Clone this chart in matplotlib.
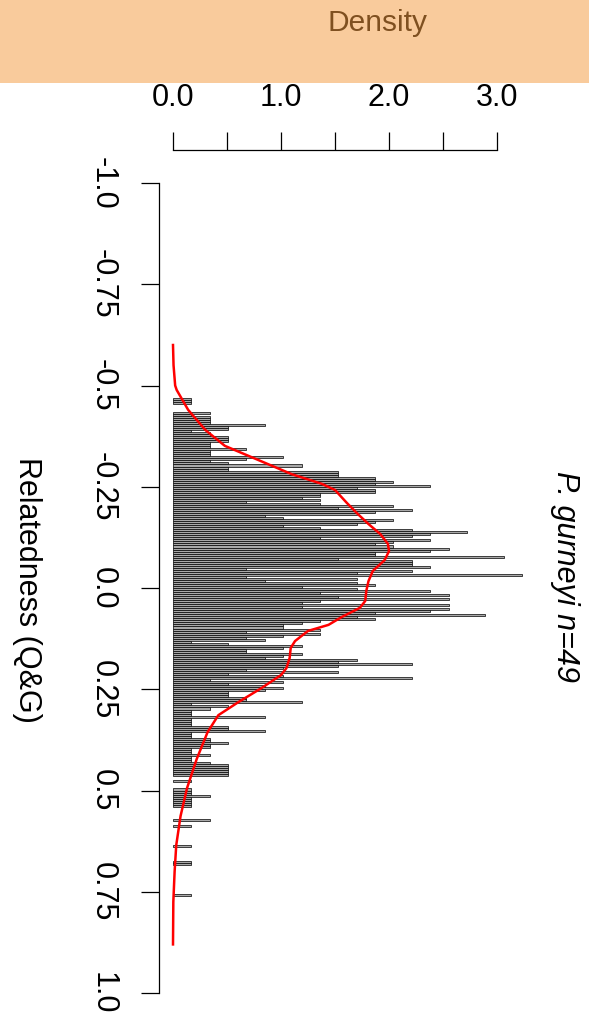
import matplotlib
matplotlib.use("Agg")
import matplotlib.pyplot as plt
import matplotlib.transforms as mtransforms
from matplotlib.patches import Rectangle
import numpy as np

plt.rcParams['font.family'] = ['Liberation Sans', 'DejaVu Sans']

# ---- data ----
bin_start = -0.47
bin_width = 0.005
n_pairs = 1176  # 49*48/2
counts = [
    1, 1, 1, 0, 0, 0, 0, 2, 1, 2, 2, 2, 2, 5, 3, 3, 1, 2, 2, 3, 3, 3, 2, 2,
    2, 4, 2, 2, 2, 6, 4, 2, 3, 7, 3, 3, 9, 9, 9, 11, 11, 12, 11, 14, 10, 11, 11, 8, 8, 7, 8, 4,
    8, 12, 9, 13, 11, 10, 5, 6, 12, 11, 10, 6, 8, 13, 16, 14, 13, 8, 14, 12, 11, 12, 15, 14, 11, 11, 18, 9,
    13, 13, 13, 14, 4, 13, 10, 19, 4, 10, 5, 10, 11, 7, 10, 14, 8, 15, 9, 15, 8, 7, 15, 7, 15, 14, 11, 17, 10,
    11, 8, 7, 6, 6, 8, 4, 8, 6, 4, 5, 1, 3, 7, 6, 4, 4, 7, 6, 5, 10, 9, 13, 9, 6, 4, 9, 3,
    6, 13, 2, 6, 3, 5, 6, 5, 3, 3, 3, 4, 4, 7, 1, 3, 2, 1, 1, 1, 5, 1, 1, 1, 1, 3, 3, 5,
    1, 1, 1, 2, 2, 3, 2, 2, 1, 1, 1, 2, 1, 1, 1, 2, 3, 3, 3, 3, 3, 3, 0, 0, 1, 0, 0, 0,
    1, 1, 1, 2, 1, 1, 1, 1, 1, 0, 0, 0, 0, 0, 0, 2, 0, 0, 1, 0, 0, 0, 0, 0, 0, 0, 0, 0,
    1, 0, 0, 0, 0, 0, 0, 0, 1, 1, 0, 0, 0, 0, 0, 0, 0, 0, 0, 0, 0, 0, 0, 0, 1,
]

dens_r = [-0.60, -0.55, -0.50, -0.489, -0.44, -0.39, -0.351, -0.316, -0.281, -0.257,
          -0.242, -0.21, -0.183, -0.158, -0.133, -0.109, -0.091, -0.069, -0.042, -0.017,
          0.007, 0.032, 0.049, 0.072, 0.091, 0.106, 0.131, 0.148, 0.173, 0.198,
          0.215, 0.247, 0.281, 0.314, 0.356, 0.422, 0.494, 0.563, 0.635, 0.70,
          0.775, 0.88]
dens_d = [0.0, 0.005, 0.02, 0.034, 0.14, 0.30, 0.48, 0.79, 1.10, 1.38,
          1.50, 1.61, 1.71, 1.81, 1.92, 1.99, 2.00, 1.96, 1.85, 1.81,
          1.79, 1.78, 1.73, 1.56, 1.44, 1.25, 1.13, 1.09, 1.08, 1.05,
          1.00, 0.82, 0.61, 0.42, 0.32, 0.22, 0.13, 0.07, 0.03, 0.015,
          0.003, 0.0]

rel_ticks = [-1.0, -0.75, -0.5, -0.25, 0.0, 0.25, 0.5, 0.75, 1.0]
rel_labels = ["-1.0", "-0.75", "-0.5", "-0.25", "0.0", "0.25", "0.5", "0.75", "1.0"]
dens_ticks = [0.0, 0.5, 1.0, 1.5, 2.0, 2.5, 3.0]
dens_labels = ["0.0", "", "1.0", "", "2.0", "", "3.0"]

title = "P. gurneyi n=49"
ylabel = "Relatedness (Q&G)"
header = "Density"

# ---- figure ----
W, H = 589, 1022
fig = plt.figure(figsize=(W / 100, H / 100), dpi=100)
fig.patch.set_facecolor("white")

# header band
fig.patches.append(Rectangle((0, 1 - 83 / H), 1, 83 / H, transform=fig.transFigure,
                             facecolor="#F9CB9C", edgecolor="none", zorder=0))
fig.text(377 / W, 1 - 23 / H, header, ha="center", va="center", fontsize=21.5,
         color="#7F5020")

ax_left, ax_right, ax_top, ax_bot = 159, 532, 150, 1022
ax = fig.add_axes([ax_left / W, 1 - ax_bot / H, (ax_right - ax_left) / W, (ax_bot - ax_top) / H])
ax.set_facecolor("none")

counts_a = np.array(counts, dtype=float)
density = counts_a / (n_pairs * bin_width)
lows = bin_start + bin_width * np.arange(len(counts_a))
mask = density > 0
ax.barh(lows[mask], density[mask], height=bin_width, align="edge", left=0,
        color="#A8A8A8", edgecolor="black", linewidth=0.5)

ax.plot(dens_d, dens_r, color="red", linewidth=1.8, zorder=5)

ax.set_xlim((ax_left - 173) / 108.0, (ax_right - 173) / 108.0)
ax.set_ylim((ax_bot - 588) / 405.0, (ax_top - 588) / 405.0)

for s in ["right", "bottom"]:
    ax.spines[s].set_visible(False)
ax.spines["left"].set_bounds(-1.0, 1.0)
ax.spines["top"].set_bounds(0.0, 3.0)
ax.spines["left"].set_linewidth(0.9)
ax.spines["top"].set_linewidth(0.9)

ax.xaxis.set_ticks_position("top")
ax.set_xticks(dens_ticks)
ax.set_xticklabels([])
ax.set_yticks(rel_ticks)
ax.set_yticklabels([])
ax.tick_params(axis="both", direction="out", length=13, width=0.9, color="black")

blend_y = mtransforms.blended_transform_factory(ax.transAxes, ax.transData)
blend_x = mtransforms.blended_transform_factory(ax.transData, ax.transAxes)
ax_h = ax_bot - ax_top
ax_w = ax_right - ax_left

for t, lab in zip(rel_ticks, rel_labels):
    ax.text((103 - ax_left) / ax_w, t, lab, transform=blend_y, rotation=-90,
            ha="center", va="center", fontsize=22, clip_on=False)
for t, lab in zip(dens_ticks, dens_labels):
    if lab:
        ax.text(t, 1 + (ax_top - 98) / ax_h, lab, transform=blend_x,
                ha="center", va="center", fontsize=22, clip_on=False)

fig.text(27 / W, 1 - 590 / H, ylabel, rotation=-90, ha="center", va="center", fontsize=22)
fig.text(565 / W, 1 - 576 / H, title, rotation=-90, ha="center", va="center", fontsize=22,
         style="italic")

fig.savefig("out.png", dpi=100)
